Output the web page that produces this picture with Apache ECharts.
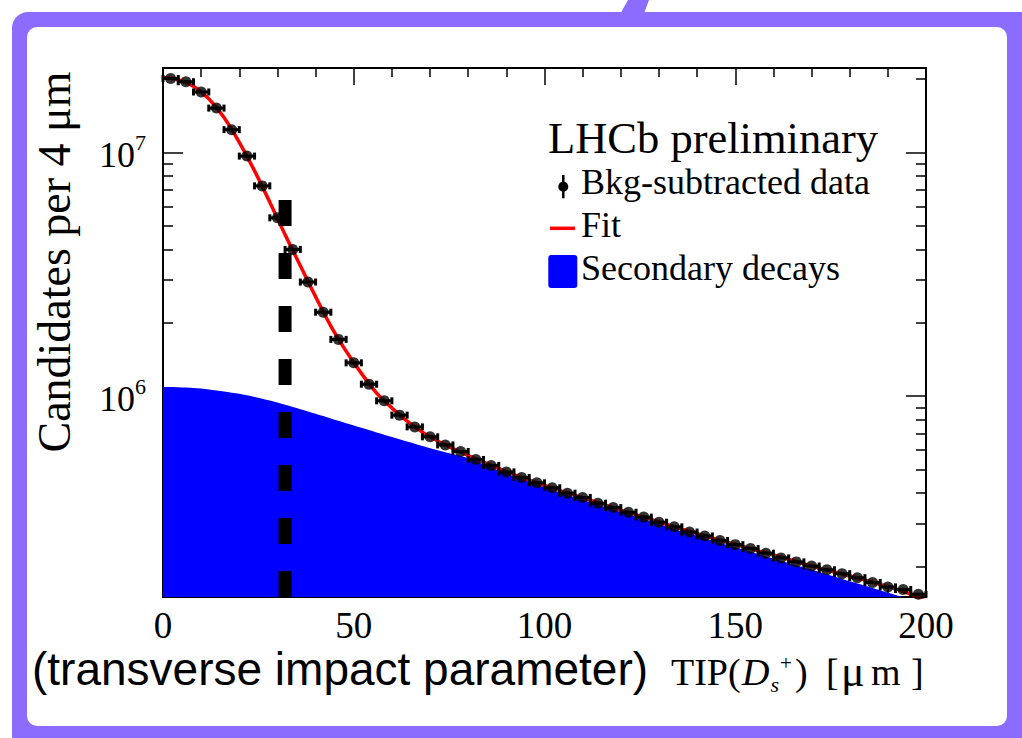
<!DOCTYPE html>
<html>
<head>
<meta charset="utf-8">
<title>TIP(Ds+) distribution</title>
<script src="https://cdn.jsdelivr.net/npm/echarts@6/dist/echarts.min.js"></script>
<style>
  html, body { margin: 0; padding: 0; background: #fff; }
  #chart { width: 1022px; height: 738px; }
</style>
</head>
<body>
<div id="chart"></div>
<script>
// bin centres [um] and background-subtracted candidates per 4 um
const dataX = [2, 6, 10, 14, 18, 22, 26, 30, 34, 38,
  42, 46, 50, 54, 58, 62, 66, 70, 74, 78,
  82, 86, 90, 94, 98, 102, 106, 110, 114, 118,
  122, 126, 130, 134, 138, 142, 146, 150, 154, 158,
  162, 166, 170, 174, 178, 182, 186, 190, 194, 198]
const dataY = [2.01e7, 1.95e7, 1.77e7, 1.52e7, 1.24e7, 9.66e6, 7.29e6, 5.39e6, 4.00e6, 2.94e6,
  2.21e6, 1.71e6, 1.37e6, 1.12e6, 9.57e5, 8.36e5, 7.48e5, 6.81e5, 6.31e5, 5.93e5,
  5.50e5, 5.20e5, 4.89e5, 4.64e5, 4.41e5, 4.21e5, 4.00e5, 3.84e5, 3.64e5, 3.49e5,
  3.34e5, 3.19e5, 3.04e5, 2.91e5, 2.77e5, 2.67e5, 2.56e5, 2.46e5, 2.37e5, 2.27e5,
  2.17e5, 2.09e5, 2.01e5, 1.94e5, 1.87e5, 1.80e5, 1.72e5, 1.65e5, 1.61e5, 1.54e5]
const binHalfWidth = 2

// fit curve and secondary-decay component, sampled every 4 um
const curveX = [0, 4, 8, 12, 16, 20, 24, 28, 32, 36,
  40, 44, 48, 52, 56, 60, 64, 68, 72, 76,
  80, 84, 88, 92, 96, 100, 104, 108, 112, 116,
  120, 124, 128, 132, 136, 140, 144, 148, 152, 156,
  160, 164, 168, 172, 176, 180, 184, 188, 192, 196, 200]
const fitY = [2.03e7, 1.99e7, 1.87e7, 1.66e7, 1.39e7, 1.10e7, 8.40e6, 6.25e6, 4.60e6, 3.43e6,
  2.56e6, 1.94e6, 1.53e6, 1.24e6, 1.03e6, 8.95e5, 7.90e5, 7.12e5, 6.55e5, 6.10e5,
  5.70e5, 5.36e5, 5.05e5, 4.77e5, 4.52e5, 4.30e5, 4.10e5, 3.92e5, 3.74e5, 3.57e5,
  3.41e5, 3.26e5, 3.12e5, 2.98e5, 2.85e5, 2.73e5, 2.62e5, 2.51e5, 2.42e5, 2.32e5,
  2.23e5, 2.14e5, 2.05e5, 1.97e5, 1.90e5, 1.83e5, 1.76e5, 1.69e5, 1.62e5, 1.54e5, 1.44e5]
const secondaryY = [1.090e6, 1.088e6, 1.080e6, 1.066e6, 1.046e6, 1.022e6, 9.93e5, 9.60e5, 9.22e5, 8.84e5,
  8.47e5, 8.10e5, 7.75e5, 7.42e5, 7.10e5, 6.80e5, 6.52e5, 6.25e5, 6.00e5, 5.78e5,
  5.58e5, 5.26e5, 4.96e5, 4.69e5, 4.45e5, 4.23e5, 4.03e5, 3.85e5, 3.67e5, 3.50e5,
  3.35e5, 3.20e5, 3.06e5, 2.92e5, 2.79e5, 2.67e5, 2.56e5, 2.45e5, 2.35e5, 2.25e5,
  2.16e5, 2.07e5, 1.98e5, 1.90e5, 1.82e5, 1.74e5, 1.67e5, 1.60e5, 1.53e5, 1.47e5, 1.40e5]

// vertical dashed cut
const cutX = 32
const cutTop = 6.43e6

const yMin = 1.5e5
const yMax = 2.22e7

const serif = 'Liberation Serif'
const sans = 'Liberation Sans'
const purple = '#8b6cff'

function zip(xs, ys) {
  return xs.map((x, i) => [x, ys[i]])
}

// plain text element helper for the graphic layer
function label(text, x, y, size, extra) {
  return {
    type: 'text',
    x: x,
    y: y,
    style: Object.assign({ text: text, fill: '#000', fontFamily: serif, fontSize: size, align: 'left', verticalAlign: 'middle' }, extra || {})
  }
}

const chart = echarts.init(document.getElementById('chart'), null, { renderer: 'svg' })

const frameLine = { color: '#000', width: 2 }
const tickLine = { color: '#000', width: 1.5 }

const xAxisBase = {
  type: 'value',
  min: 0,
  max: 200,
  interval: 50,
  axisLine: { show: true, onZero: false, lineStyle: frameLine },
  axisTick: { show: true, inside: true, length: 17, lineStyle: tickLine },
  minorTick: { show: true, splitNumber: 5, length: 9, lineStyle: tickLine },
  splitLine: { show: false }
}

const yAxisBase = {
  type: 'log',
  logBase: 10,
  min: yMin,
  max: yMax,
  axisLine: { show: true, onZero: false, lineStyle: frameLine },
  axisTick: { show: true, inside: true, length: 20, lineStyle: tickLine },
  minorTick: { show: true, splitNumber: 9, length: 10, lineStyle: tickLine },
  splitLine: { show: false }
}

const option = {
  animation: false,
  backgroundColor: '#fff',
  grid: { left: 163, right: 96, top: 68, bottom: 141, containLabel: false },
  xAxis: [
    Object.assign({}, xAxisBase, {
      position: 'bottom',
      axisLabel: { margin: 10, color: '#000', fontFamily: serif, fontSize: 37 }
    }),
    Object.assign({}, xAxisBase, { position: 'top', axisLabel: { show: false } })
  ],
  yAxis: [
    Object.assign({}, yAxisBase, {
      position: 'left',
      axisLabel: {
        margin: 17,
        color: '#000',
        formatter: function (v) {
          const p = Math.log10(v)
          if (Math.abs(p - Math.round(p)) > 1e-6) return ''
          return '{b|10}{s|' + Math.round(p) + '}'
        },
        rich: {
          b: { fontFamily: serif, fontSize: 36, lineHeight: 42, verticalAlign: 'bottom', color: '#000' },
          s: { fontFamily: serif, fontSize: 22, lineHeight: 22, verticalAlign: 'top', color: '#000' }
        }
      }
    }),
    Object.assign({}, yAxisBase, { position: 'right', axisLabel: { show: false } })
  ],
  series: [
    {
      name: 'Secondary decays',
      type: 'line',
      data: zip(curveX, secondaryY),
      smooth: 0.3,
      symbol: 'none',
      lineStyle: { width: 0 },
      areaStyle: { color: '#0000ff', opacity: 1, origin: 'start' },
      z: 1
    },
    {
      name: 'Fit',
      type: 'line',
      data: zip(curveX, fitY),
      smooth: 0.3,
      symbol: 'none',
      lineStyle: { color: '#ff0000', width: 3.5 },
      z: 2
    },
    {
      name: 'Bkg-subtracted data',
      type: 'custom',
      data: zip(dataX, dataY),
      encode: { x: 0, y: 1 },
      renderItem: function (params, api) {
        const x = api.value(0)
        const y = api.value(1)
        const a = api.coord([x - binHalfWidth, y])
        const b = api.coord([x + binHalfWidth, y])
        const st = { stroke: '#000', lineWidth: 3 }
        return {
          type: 'group',
          children: [
            { type: 'line', shape: { x1: a[0], y1: a[1], x2: b[0], y2: b[1] }, style: st },
            { type: 'line', shape: { x1: a[0], y1: a[1] - 3.5, x2: a[0], y2: a[1] + 3.5 }, style: st },
            { type: 'line', shape: { x1: b[0], y1: b[1] - 3.5, x2: b[0], y2: b[1] + 3.5 }, style: st }
          ]
        }
      },
      z: 3
    },
    {
      name: 'Bkg-subtracted data',
      type: 'scatter',
      data: zip(dataX, dataY),
      symbol: 'circle',
      symbolSize: 11,
      itemStyle: { color: '#000' },
      z: 4
    },
    {
      name: 'cut',
      type: 'line',
      data: [[cutX, yMin], [cutX, cutTop]],
      symbol: 'none',
      lineStyle: { color: '#000', width: 13, type: [26, 27], cap: 'butt' },
      z: 5
    }
  ],
  graphic: {
    elements: [
      // hand-drawn style frame
      { type: 'rect', z: -2, shape: { x: 12, y: 12, width: 1030, height: 740, r: 16 }, style: { fill: purple } },
      { type: 'polygon', z: -2, shape: { points: [[628, 0], [649, 0], [643, 16], [619, 16]] }, style: { fill: purple } },
      { type: 'rect', z: -1, shape: { x: 27, y: 27, width: 980, height: 699, r: 10 }, style: { fill: '#fff' } },

      // header and legend
      label('LHCb preliminary', 548, 137.5, 44.5),
      { type: 'line', shape: { x1: 563.3, y1: 175, x2: 563.3, y2: 198.3 }, style: { stroke: '#000', lineWidth: 2.5 } },
      { type: 'circle', shape: { cx: 563.3, cy: 186.7, r: 5 }, style: { fill: '#000' } },
      label('Bkg-subtracted data', 581, 182.3, 36),
      { type: 'line', shape: { x1: 550, y1: 228.3, x2: 575, y2: 228.3 }, style: { stroke: '#ff0000', lineWidth: 3.5 } },
      label('Fit', 581, 224.6, 36),
      { type: 'rect', shape: { x: 548.3, y: 255, width: 29, height: 33, r: 3 }, style: { fill: '#0000ff' } },
      label('Secondary decays', 581, 267.9, 36),

      // axis titles
      {
        type: 'text', x: 54.5, y: 262, rotation: Math.PI / 2,
        style: { text: 'Candidates per 4 μm', fill: '#000', fontFamily: serif, fontSize: 46, align: 'center', verticalAlign: 'middle' }
      },
      label('(transverse impact parameter)', 32, 668.7, 46, { fontFamily: sans }),
      label('TIP(', 671, 671.5, 38),
      label('D', 742, 671.5, 38, { fontStyle: 'italic', lineHeight: 34 }),
      // subscript s and superscript charge, staggered
      label('s', 770.5, 684, 22, { fontStyle: 'italic', lineHeight: 18 }),
      label('+', 780, 663, 21, { lineHeight: 18 }),
      label(')', 795, 671.5, 38),
      label('[', 826, 671.5, 38),
      label('μ', 841, 671.5, 44, { lineHeight: 38 }),
      label('m', 871, 671.5, 38),
      label(']', 911, 671.5, 38)
    ]
  }
}

chart.setOption(option)
</script>
</body>
</html>
